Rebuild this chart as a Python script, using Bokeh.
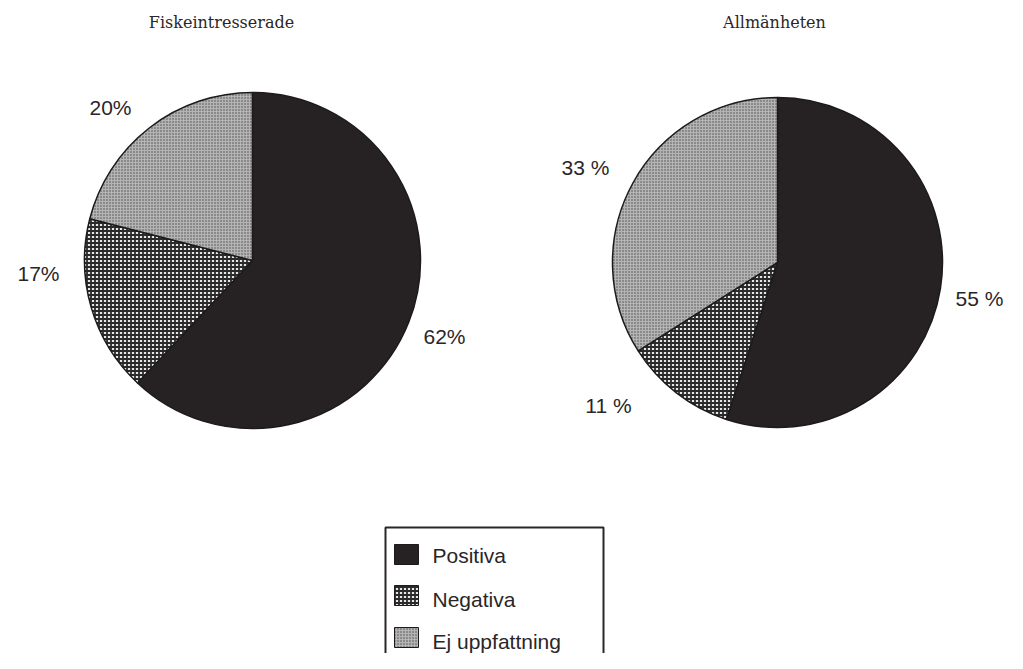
import math
from bokeh.plotting import figure
from bokeh.models import Range1d, ColumnDataSource
from bokeh.core.properties import value
from bokeh.embed import file_html
from bokeh.resources import INLINE

# ---- data ----
categories = ["Positiva", "Negativa", "Ej uppfattning"]
titles = ["Fiskeintresserade", "Allmänheten"]
fisk_values = [62, 17, 20]
allm_values = [55, 11, 33]
fisk_labels = ["62%", "17%", "20%"]
allm_labels = ["55 %", "11 %", "33 %"]

# ---- styles ----
W, H = 1007, 653
fills = ["#262224", "#e6e6e6", "#b4b4b4"]
hatches = [" ", "+", "dot"]
hatch_colors = ["#262224", "#2a2a2a", "#4a4a4a"]
hatch_scales = [4, 4, 3]
hatch_weights = [1, 1.8, 1]

def Y(img_y):
    return H - img_y

def X(img_x):
    return img_x

p = figure(width=W, height=H, x_range=Range1d(0, W), y_range=Range1d(0, H),
           output_backend="svg", toolbar_location=None, min_border=0)
p.axis.visible = False
p.grid.visible = False
p.outline_line_color = None
p.background_fill_color = "white"

pies = [
    dict(vals=fisk_values, labels=fisk_labels, cx=X(252), cy=Y(260), r=168,
         label_pos=[(444, 336), (38, 273), (110, 107)], title_pos=(221, 22)),
    dict(vals=allm_values, labels=allm_labels, cx=X(777), cy=Y(262), r=165,
         label_pos=[(979, 298), (608, 405), (585, 167)], title_pos=(774, 22)),
]

for pie, title in zip(pies, titles):
    cum = 0.0
    starts, ends = [], []
    for v in pie["vals"]:
        starts.append(math.pi / 2 - cum / 100 * 2 * math.pi)
        cum += v
        ends.append(math.pi / 2 - cum / 100 * 2 * math.pi)
    # close last wedge to top (values sum to 99 due to rounding)
    ends[-1] = math.pi / 2 - 2 * math.pi
    src = ColumnDataSource(dict(
        x=[pie["cx"]] * 3, y=[pie["cy"]] * 3, start=starts, end=ends,
        fill=fills, hatch=hatches, hcol=hatch_colors, hs=hatch_scales, hw=hatch_weights))
    p.wedge(x="x", y="y", radius=pie["r"], start_angle="start", end_angle="end",
            direction="clock", source=src, fill_color="fill", hatch_pattern="hatch",
            hatch_color="hcol", hatch_scale="hs", hatch_weight="hw",
            line_color="#1e1a1c", line_width=1.5)
    lx = [X(a) for a, b in pie["label_pos"]]
    ly = [Y(b) for a, b in pie["label_pos"]]
    p.text(x=lx, y=ly, text=pie["labels"], text_align="center", text_baseline="middle",
           text_font=value("Liberation Sans"), text_font_size="21px", text_color="#2a2628")
    tx, ty = pie["title_pos"]
    p.text(x=[X(tx)], y=[Y(ty)], text=[title], text_align="center", text_baseline="middle",
           text_font=value("DejaVu Serif"), text_font_size="16px", text_color="#2a2628")

# ---- legend (manual box) ----
p.quad(left=[X(385)], right=[X(603)], top=[Y(527)], bottom=[-5],
       fill_color="white", line_color="#2a2628", line_width=2)
sq_y = [Y(554), Y(595), Y(637)]
p.rect(x=[X(406)] * 3, y=sq_y, width=24, height=20, fill_color=fills,
       hatch_pattern=hatches, hatch_color=hatch_colors, hatch_scale=hatch_scales,
       hatch_weight=hatch_weights, line_color="#1e1a1c", line_width=1)
p.text(x=[X(432)] * 3, y=[Y(555), Y(599), Y(641)], text=categories,
       text_align="left", text_baseline="middle",
       text_font=value("Liberation Sans"), text_font_size="21px", text_color="#2a2628")

open("out.html", "w").write(file_html(p, INLINE))
